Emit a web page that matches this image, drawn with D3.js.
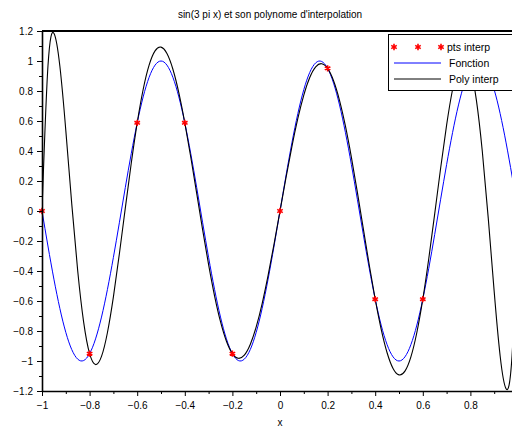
<!DOCTYPE html>
<html lang="fr">
<head>
    <meta charset="UTF-8">
    <title>sin(3 pi x) et son polynome d'interpolation</title>
    <script src="https://d3js.org/d3.v7.min.js"></script>
    <style>
        body { margin: 0; background: #fff; }
        svg { display: block; font-family: "Liberation Sans", Arial, sans-serif; }
        .tick text { font-size: 10px; }
    </style>
</head>
<body>
    <div id="chart"></div>

    <script>
        // abscisses: -1 .. 1, pas 0.025
        const xs = [-1, -0.975, -0.95, -0.925, -0.9, -0.875, -0.85, -0.825, -0.8, -0.775,
            -0.75, -0.725, -0.7, -0.675, -0.65, -0.625, -0.6, -0.575, -0.55, -0.525,
            -0.5, -0.475, -0.45, -0.425, -0.4, -0.375, -0.35, -0.325, -0.3, -0.275,
            -0.25, -0.225, -0.2, -0.175, -0.15, -0.125, -0.1, -0.075, -0.05, -0.025,
            0, 0.025, 0.05, 0.075, 0.1, 0.125, 0.15, 0.175, 0.2, 0.225,
            0.25, 0.275, 0.3, 0.325, 0.35, 0.375, 0.4, 0.425, 0.45, 0.475,
            0.5, 0.525, 0.55, 0.575, 0.6, 0.625, 0.65, 0.675, 0.7, 0.725,
            0.75, 0.775, 0.8, 0.825, 0.85, 0.875, 0.9, 0.925, 0.95, 0.975, 1];

        // la fonction sin(3 pi x)
        const fonction = [0, -0.2334, -0.4540, -0.6494, -0.8090, -0.9239, -0.9877, -0.9969, -0.9511, -0.8526,
            -0.7071, -0.5225, -0.3090, -0.0785, 0.1564, 0.3827, 0.5878, 0.7604, 0.8910, 0.9724,
            1, 0.9724, 0.8910, 0.7604, 0.5878, 0.3827, 0.1564, -0.0785, -0.3090, -0.5225,
            -0.7071, -0.8526, -0.9511, -0.9969, -0.9877, -0.9239, -0.8090, -0.6494, -0.4540, -0.2334,
            0, 0.2334, 0.4540, 0.6494, 0.8090, 0.9239, 0.9877, 0.9969, 0.9511, 0.8526,
            0.7071, 0.5225, 0.3090, 0.0785, -0.1564, -0.3827, -0.5878, -0.7604, -0.8910, -0.9724,
            -1, -0.9724, -0.8910, -0.7604, -0.5878, -0.3827, -0.1564, 0.0785, 0.3090, 0.5225,
            0.7071, 0.8526, 0.9511, 0.9969, 0.9877, 0.9239, 0.8090, 0.6494, 0.4540, 0.2334, 0];

        // polynome d'interpolation (11 points)
        const polyInterp = [0, 0.9646, 1.1853, 0.9663, 0.5377, 0.0475, -0.3982, -0.7408, -0.9511, -1.0237,
            -0.9696, -0.8100, -0.5726, -0.2864, 0.0194, 0.3183, 0.5878, 0.8100, 0.9723, 1.0673,
            1.0923, 1.0496, 0.9448, 0.7871, 0.5878, 0.3600, 0.1173, -0.1263, -0.3578, -0.5651,
            -0.7381, -0.8687, -0.9511, -0.9821, -0.9610, -0.8900, -0.7731, -0.6168, -0.4293, -0.2202,
            0, 0.2202, 0.4293, 0.6168, 0.7731, 0.8900, 0.9610, 0.9821, 0.9511, 0.8687,
            0.7381, 0.5651, 0.3578, 0.1263, -0.1173, -0.3600, -0.5878, -0.7871, -0.9448, -1.0496,
            -1.0923, -1.0673, -0.9723, -0.8100, -0.5878, -0.3183, -0.0194, 0.2864, 0.5726, 0.8100,
            0.9696, 1.0237, 0.9511, 0.7408, 0.3982, -0.0475, -0.5377, -0.9663, -1.1853, -0.9646, 0];

        // points d'interpolation
        const ptsX = [-1, -0.8, -0.6, -0.4, -0.2, 0, 0.2, 0.4, 0.6, 0.8, 1];
        const ptsY = [0, -0.9511, 0.5878, 0.5878, -0.9511, 0, 0.9511, -0.5878, -0.5878, 0.9511, 0];

        const xTicks = [-1, -0.8, -0.6, -0.4, -0.2, 0, 0.2, 0.4, 0.6, 0.8];
        const xMinor = [-0.9, -0.7, -0.5, -0.3, -0.1, 0.1, 0.3, 0.5, 0.7, 0.9];
        const yTicks = [-1.2, -1, -0.8, -0.6, -0.4, -0.2, 0, 0.2, 0.4, 0.6, 0.8, 1, 1.2];
        const yMinor = [-1.1, -0.9, -0.7, -0.5, -0.3, -0.1, 0.1, 0.3, 0.5, 0.7, 0.9, 1.1];

        const title = "sin(3 pi x) et son polynome d'interpolation";
        const legendLabels = ["pts interp", "Fonction", "Poly interp"];

        const width = 512, height = 427;
        const mLeft = 42, mRight = 518, mTop = 31, mBottom = 391;

        const svg = d3.select("#chart").append("svg")
            .attr("width", width)
            .attr("height", height);

        const x = d3.scaleLinear().domain([-1, 1]).range([mLeft, mRight]);
        const y = d3.scaleLinear().domain([-1.2, 1.2]).range([mBottom, mTop]);
        const fmt = d => String(Math.round(d * 10) / 10).replace("-", "\u2212");

        svg.append("defs").append("clipPath").attr("id", "clip")
            .append("rect")
            .attr("x", mLeft).attr("y", mTop)
            .attr("width", mRight - mLeft).attr("height", mBottom - mTop);

        svg.append("text")
            .attr("x", 270).attr("y", 18)
            .attr("text-anchor", "middle")
            .attr("font-size", 10)
            .text(title);

        // courbes
        const line = (ys) => d3.line()
            .x((d, i) => x(xs[i]))
            .y(d => y(d))
            .curve(d3.curveNatural)(ys);

        const plot = svg.append("g").attr("clip-path", "url(#clip)");
        plot.append("path")
            .attr("d", line(fonction))
            .attr("fill", "none")
            .attr("stroke", "#0000ff")
            .attr("stroke-width", 1);
        plot.append("path")
            .attr("d", line(polyInterp))
            .attr("fill", "none")
            .attr("stroke", "#000")
            .attr("stroke-width", 1.1);

        const star = d3.symbol().type(d3.symbolAsterisk).size(28);
        svg.append("g").selectAll("path")
            .data(ptsX)
            .join("path")
            .attr("transform", (d, i) => `translate(${x(d)},${y(ptsY[i])})`)
            .attr("d", star)
            .attr("fill", "none")
            .attr("stroke", "#ff0000")
            .attr("stroke-width", 1.6);

        // axes
        const xAxis = svg.append("g")
            .attr("transform", `translate(0,${mBottom})`)
            .call(d3.axisBottom(x).tickValues(xTicks).tickSize(5).tickSizeOuter(0).tickFormat(fmt));
        svg.append("g")
            .attr("transform", `translate(0,${mBottom})`)
            .call(d3.axisBottom(x).tickValues(xMinor).tickSize(3).tickSizeOuter(0).tickFormat(""))
            .select(".domain").remove();
        xAxis.selectAll(".tick text").attr("dy", "0.95em");

        const yAxis = svg.append("g")
            .attr("transform", `translate(${mLeft},0)`)
            .call(d3.axisLeft(y).tickValues(yTicks).tickSize(5).tickSizeOuter(0).tickFormat(fmt));
        svg.append("g")
            .attr("transform", `translate(${mLeft},0)`)
            .call(d3.axisLeft(y).tickValues(yMinor).tickSize(3).tickSizeOuter(0).tickFormat(""))
            .select(".domain").remove();
        yAxis.selectAll(".tick text").attr("x", -9);

        svg.selectAll(".domain").attr("stroke-width", 1.6);
        svg.selectAll(".tick line").attr("stroke-width", 1);

        svg.append("line")
            .attr("x1", mLeft).attr("x2", mRight)
            .attr("y1", mTop).attr("y2", mTop)
            .attr("stroke", "#000")
            .attr("stroke-width", 2);

        svg.append("text")
            .attr("x", x(0)).attr("y", 426)
            .attr("text-anchor", "middle")
            .attr("font-size", 10)
            .text("x");

        // legende
        const lg = svg.append("g");
        lg.append("rect")
            .attr("x", 388.5).attr("y", 34.5)
            .attr("width", 140).attr("height", 56)
            .attr("fill", "#fff")
            .attr("stroke", "#000")
            .attr("stroke-width", 1);

        lg.selectAll("path.lstar")
            .data([394, 418, 441])
            .join("path")
            .attr("class", "lstar")
            .attr("transform", d => `translate(${d},47)`)
            .attr("d", star)
            .attr("fill", "none")
            .attr("stroke", "#ff0000")
            .attr("stroke-width", 1.6);

        lg.append("line")
            .attr("x1", 394).attr("x2", 441).attr("y1", 63).attr("y2", 63)
            .attr("stroke", "#0000ff");
        lg.append("line")
            .attr("x1", 394).attr("x2", 441).attr("y1", 79).attr("y2", 79)
            .attr("stroke", "#000");

        lg.selectAll("text")
            .data(legendLabels)
            .join("text")
            .attr("x", (d, i) => i === 0 ? 447 : 449)
            .attr("y", (d, i) => 51 + i * 16)
            .attr("font-size", 10.5)
            .text(d => d);
    </script>
</body>
</html>
